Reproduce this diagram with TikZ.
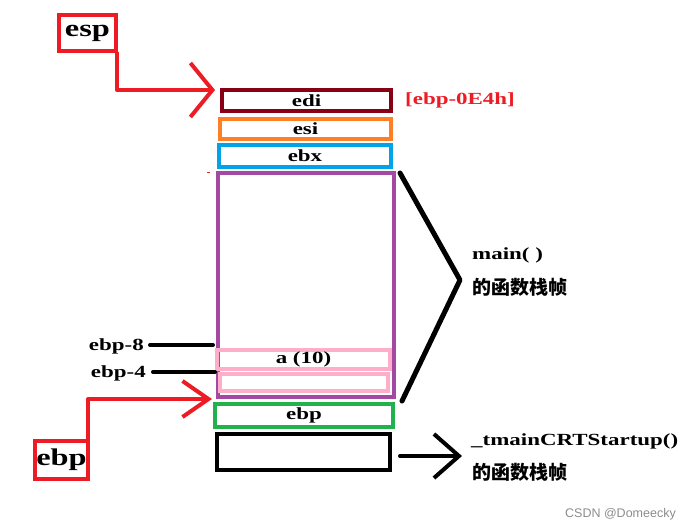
\documentclass[tikz,border=0pt]{standalone}
\usepackage{fontspec}
\newfontfamily\lbl{Liberation Serif}[FakeStretch=1.35]
\newfontfamily\cjk{Noto Sans CJK SC}
\newfontfamily\wm{Liberation Sans}
\usetikzlibrary{arrows.meta}
\definecolor{pred}{RGB}{237,28,36}
\definecolor{pdred}{RGB}{136,0,21}
\definecolor{porange}{RGB}{255,127,39}
\definecolor{pblue}{RGB}{0,162,232}
\definecolor{ppurple}{RGB}{163,73,164}
\definecolor{ppink}{RGB}{255,174,201}
\definecolor{pgreen}{RGB}{34,177,76}
\begin{document}
\begin{tikzpicture}[x=1pt,y=-1pt,
  reg/.style={draw,line width=4pt,inner sep=0pt,font=\lbl\bfseries\fontsize{17}{20}\selectfont},
  big/.style={draw=pred,line width=4pt,inner sep=0pt,font=\lbl\bfseries\fontsize{24}{28}\selectfont},
  txt/.style={inner sep=0pt,font=\lbl\bfseries\fontsize{17}{20}\selectfont},
  cn/.style={inner sep=0pt,font=\cjk\bfseries\fontsize{19}{22}\selectfont},
  redline/.style={draw=pred,line width=4pt,line cap=round,line join=round},
  blackline/.style={draw=black,line width=4pt,line cap=round,line join=round}]
\useasboundingbox (0,0) rectangle (689,531);
% stack boxes
\node[reg,draw=pdred,minimum width=169pt,minimum height=21pt] (edi) at (306.5,100.5) {edi};
\node[reg,draw=porange,minimum width=171pt,minimum height=20pt] (esi) at (305.5,129) {esi};
\node[reg,draw=pblue,minimum width=172pt,minimum height=22pt] (ebx) at (305,156) {ebx};
\node[reg,draw=ppurple,minimum width=176pt,minimum height=224pt] (frame) at (306,285) {};
\node[reg,draw=ppink,minimum width=173pt,minimum height=19pt] (a) at (303.5,359) {a (10)};
\node[reg,draw=ppink,minimum width=168pt,minimum height=17pt] (pad) at (304,382.5) {};
\node[reg,draw=pgreen,minimum width=178pt,minimum height=23pt] (ebp) at (304,415.5) {ebp};
\node[reg,draw=black,minimum width=173pt,minimum height=36pt] (caller) at (303.5,452) {};
% register pointer boxes
\node[big,minimum width=57pt,minimum height=36pt] (esp) at (87.5,33) {esp};
\node[big,minimum width=53pt,minimum height=38pt] (ebpreg) at (61.5,460) {ebp};
% labels
\node[txt,text=pred,anchor=west] (off) at (405,100) {[ebp-0E4h]};
\node[txt,anchor=west] (mainl) at (472,255) {main( )};
\node[cn,anchor=west] (mainc) at (472,287) {的函数栈帧};
\node[txt,anchor=west] (crtl) at (471,441) {\_tmainCRTStartup()};
\node[cn,anchor=west] (crtc) at (472,472) {的函数栈帧};
\node[txt,anchor=east] (m8) at (144,346) {ebp-8};
\node[txt,anchor=east] (m4) at (146,373) {ebp-4};
\node[anchor=east,inner sep=0pt,text=black!45,font=\wm\fontsize{12.5}{14}\selectfont] (wm) at (676,514) {CSDN @Domeecky};
% coordinates
\coordinate (esptip) at (215,90);
\coordinate (ebptip) at (212,399);
\coordinate (crttip) at (462,456);
\coordinate (m8e) at (213,345);
\coordinate (m4e) at (215,372);
\coordinate (apex) at (460,280);
% connectors
\draw[redline,-{Straight Barb[length=22pt,width=54pt]}] ([xshift=-1pt]esp.south east) |- (esptip);
\draw[redline,-{Straight Barb[length=26pt,width=36pt]}] ([xshift=-2pt]ebpreg.north east) |- (ebptip);
\draw[blackline,-{Straight Barb[length=25pt,width=44pt]}] ([xshift=8pt]caller.east |- crttip) -- (crttip);
\draw[blackline] ([xshift=6pt]m8.east |- m8e) -- (m8e);
\draw[blackline] ([xshift=7pt]m4.east |- m4e) -- (m4e);
\draw[blackline,line width=5pt] ([xshift=4pt,yshift=-2pt]frame.north east) -- (apex) -- ([xshift=6pt,yshift=-2pt]frame.south east);
\draw[draw=pred,line width=1pt] (207,172.5) -- (210,172.5);
\end{tikzpicture}
\end{document}
